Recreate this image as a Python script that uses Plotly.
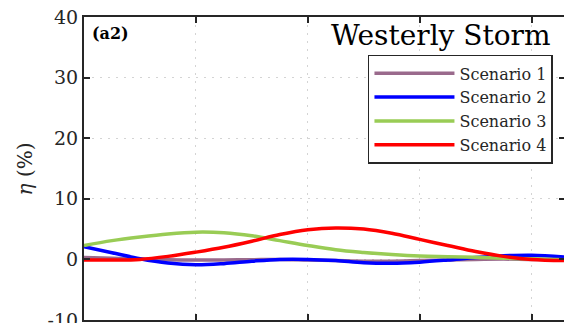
import plotly.graph_objects as go

# Sample positions along the horizontal axis
x = [0.0, 0.25, 0.5, 0.75, 1.0, 1.25, 1.5, 1.75, 2.0, 2.25, 2.5, 2.75,
     3.0, 3.25, 3.5, 3.75, 4.0, 4.29]

# Efficiency change eta (%) for each scenario
scenario_1 = [0.3, 0.2, 0.05, -0.05, -0.1, -0.1, -0.05, 0.0, -0.1, -0.2,
              -0.3, -0.3, -0.2, -0.1, 0.0, 0.05, 0.0, 0.0]
scenario_2 = [2.1, 1.1, 0.1, -0.6, -0.9, -0.7, -0.3, 0.0, 0.0, -0.2,
              -0.55, -0.65, -0.45, -0.1, 0.3, 0.6, 0.7, 0.4]
scenario_3 = [2.3, 3.1, 3.7, 4.2, 4.5, 4.4, 3.9, 3.1, 2.3, 1.6,
              1.15, 0.8, 0.55, 0.45, 0.35, 0.2, 0.1, -0.05]
scenario_4 = [-0.1, -0.1, 0.0, 0.5, 1.2, 2.0, 3.0, 4.1, 4.9, 5.2,
              5.0, 4.3, 3.3, 2.3, 1.3, 0.5, 0.0, -0.2]

names = ["Scenario 1", "Scenario 2", "Scenario 3", "Scenario 4"]
colors = ["#9a6a8c", "#0000ff", "#99cc55", "#ff0000"]
series = [scenario_1, scenario_2, scenario_3, scenario_4]

y_ticks = [-10, 0, 10, 20, 30, 40]
x_ticks = [0, 1, 2, 3, 4]

SERIF = "DejaVu Serif"
AXIS = "#262626"

fig = go.Figure()
for name, col, ys in zip(names, colors, series):
    fig.add_trace(go.Scatter(
        x=x, y=ys, name=name, mode="lines",
        line=dict(color=col, width=3.5, shape="spline", smoothing=1.0),
    ))

# invisible trace carrying the right-hand tick marks
fig.add_trace(go.Scatter(x=[x[0]], y=[0], yaxis="y2", showlegend=False,
                         mode="lines", hoverinfo="skip",
                         line=dict(color="rgba(0,0,0,0)")))

fig.update_layout(
    width=564, height=323,
    margin=dict(l=84, r=0, t=17, b=3),
    paper_bgcolor="white", plot_bgcolor="white",
    font=dict(family=SERIF, color="#262626"),
    xaxis=dict(
        range=[0, 4.29], tickvals=x_ticks, showticklabels=False,
        automargin=False,
        showgrid=True, gridcolor="#d4d4d4", griddash="2px,6px", gridwidth=1,
        zeroline=False, showline=True, linecolor=AXIS, linewidth=2,
        mirror="ticks", ticks="inside", ticklen=6, tickwidth=1.5, tickcolor=AXIS,
    ),
    yaxis=dict(
        range=[-10, 40], tickvals=y_ticks, automargin=False,
        ticktext=[str(v) for v in y_ticks], ticklabeloverflow="allow",
        tickfont=dict(size=19, family=SERIF, color="#262626"),
        showgrid=True, gridcolor="#d4d4d4", griddash="2px,6px", gridwidth=1,
        zeroline=False, showline=True, linecolor=AXIS, linewidth=2,
        ticks="inside", ticklen=6, tickwidth=1.5, tickcolor=AXIS,
    ),
    yaxis2=dict(
        overlaying="y", side="right", matches="y", tickvals=y_ticks,
        showticklabels=False, showgrid=False, zeroline=False, showline=False,
        automargin=False,
        ticks="inside", ticklen=5, tickwidth=1.5, tickcolor=AXIS,
    ),
    legend=dict(
        x=0.977, y=0.875, xanchor="right", yanchor="top",
        bgcolor="white", bordercolor="#262626", borderwidth=1.5,
        font=dict(size=16, family=SERIF, color="#262626"),
        itemwidth=80, tracegroupgap=0,
    ),
    showlegend=True,
    annotations=[
        dict(text="<i>η</i> (%)", xref="paper", yref="paper", x=-0.123, y=0.5,
             xanchor="center", yanchor="middle", textangle=-90, showarrow=False,
             font=dict(size=20, family=SERIF, color="#262626")),
        dict(text="<b>(a2)</b>", xref="paper", yref="paper", x=0.012, y=0.985,
             xanchor="left", yanchor="top", showarrow=False,
             font=dict(size=16, family=SERIF, color="#000000")),
        dict(text="Westerly Storm", xref="paper", yref="paper", x=0.977, y=1.0,
             xanchor="right", yanchor="top", showarrow=False,
             font=dict(size=28, family=SERIF, color="#000000")),
    ],
)

fig.write_html("out.html")
